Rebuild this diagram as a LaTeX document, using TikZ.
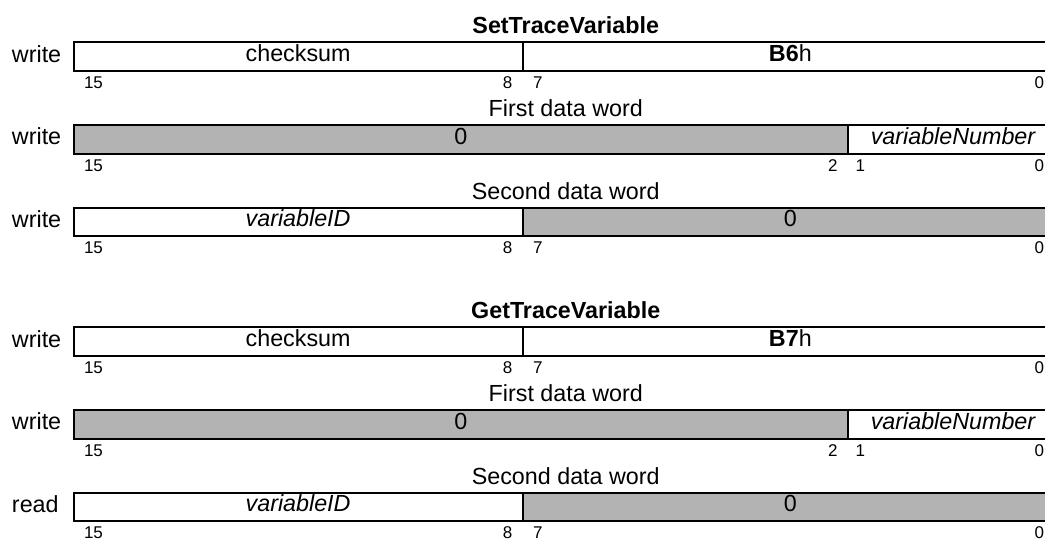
\documentclass[tikz,border=0pt]{standalone}
\usepackage{fontspec}
\setmainfont{Liberation Sans}
\definecolor{boxgray}{RGB}{179,179,179}
\newcommand\mainsz{\fontsize{23.3pt}{26pt}\selectfont}
\newcommand\bitsz{\fontsize{17pt}{19pt}\selectfont}
\tikzset{
  fld/.style={draw, line width=2pt, inner sep=0pt, outer sep=0pt,
    minimum height=28.7pt, anchor=north west, font=\mainsz,
    text height=14pt, text depth=3.9pt},
  wfld/.style={fld, fill=white},
  gfld/.style={fld, fill=boxgray},
  lbl/.style={inner sep=0pt, outer sep=0pt, font=\mainsz, anchor=base},
  ttl/.style={lbl, font=\mainsz\bfseries},
  rwlbl/.style={lbl, anchor=base west},
  bitl/.style={inner sep=0pt, outer sep=0pt, font=\bitsz, yshift=-17.5pt},
  bitL/.style={bitl, anchor=base west, xshift=10.5pt},
  bitR/.style={bitl, anchor=base east, xshift=-10.5pt},
  bitZ/.style={bitl, anchor=base east, xshift=-14pt},
}
\begin{document}
\begin{tikzpicture}[x=1pt,y=-1pt]
\clip (0,0) rectangle (1045,541);
\foreach \g/\dy/\tl/\cmd/\last in {s/0/Set/6/write, g/285/Get/7/read}{
  \node[ttl] (\g t) at (565.75,{33.3+\dy}) {\tl TraceVariable};
  % row 1
  \node[wfld, minimum width=449.2pt] (\g1a) at (73.5,{42.3+\dy}) {checksum};
  \node[wfld, minimum width=535.3pt] (\g1b) at (\g1a.north east) {\textbf{B\cmd}h};
  \node[rwlbl] (\g1l) at (12,{62+\dy}) {write};
  \node[bitL] (\g1n15) at (\g1a.south west) {15};
  \node[bitR] (\g1n8) at (\g1a.south east) {8};
  \node[bitL] (\g1n7) at (\g1b.south west) {7};
  \node[bitZ] (\g1n0) at (\g1b.south east) {0};
  % row 2
  \node[lbl] (\g2t) at (565.75,{116.7+\dy}) {First data word};
  \node[gfld, minimum width=774.5pt] (\g2a) at (73.5,{125+\dy}) {0};
  \node[wfld, minimum width=210pt] (\g2b) at (\g2a.north east) {\itshape variableNumber};
  \node[rwlbl] (\g2l) at (12,{144.7+\dy}) {write};
  \node[bitL] (\g2n15) at (\g2a.south west) {15};
  \node[bitR] (\g2n2) at (\g2a.south east) {2};
  \node[bitL, xshift=-3pt] (\g2n1) at (\g2b.south west) {1};
  \node[bitZ] (\g2n0) at (\g2b.south east) {0};
  % row 3
  \node[lbl] (\g3t) at (565.75,{199+\dy}) {Second data word};
  \node[wfld, minimum width=449.2pt] (\g3a) at (73.5,{207.5+\dy}) {\itshape variableID};
  \node[gfld, minimum width=535.3pt] (\g3b) at (\g3a.north east) {0};
  \node[rwlbl] (\g3l) at (12,{227.2+\dy}) {\last};
  \node[bitL] (\g3n15) at (\g3a.south west) {15};
  \node[bitR] (\g3n8) at (\g3a.south east) {8};
  \node[bitL] (\g3n7) at (\g3b.south west) {7};
  \node[bitZ] (\g3n0) at (\g3b.south east) {0};
}
\end{tikzpicture}
\end{document}
